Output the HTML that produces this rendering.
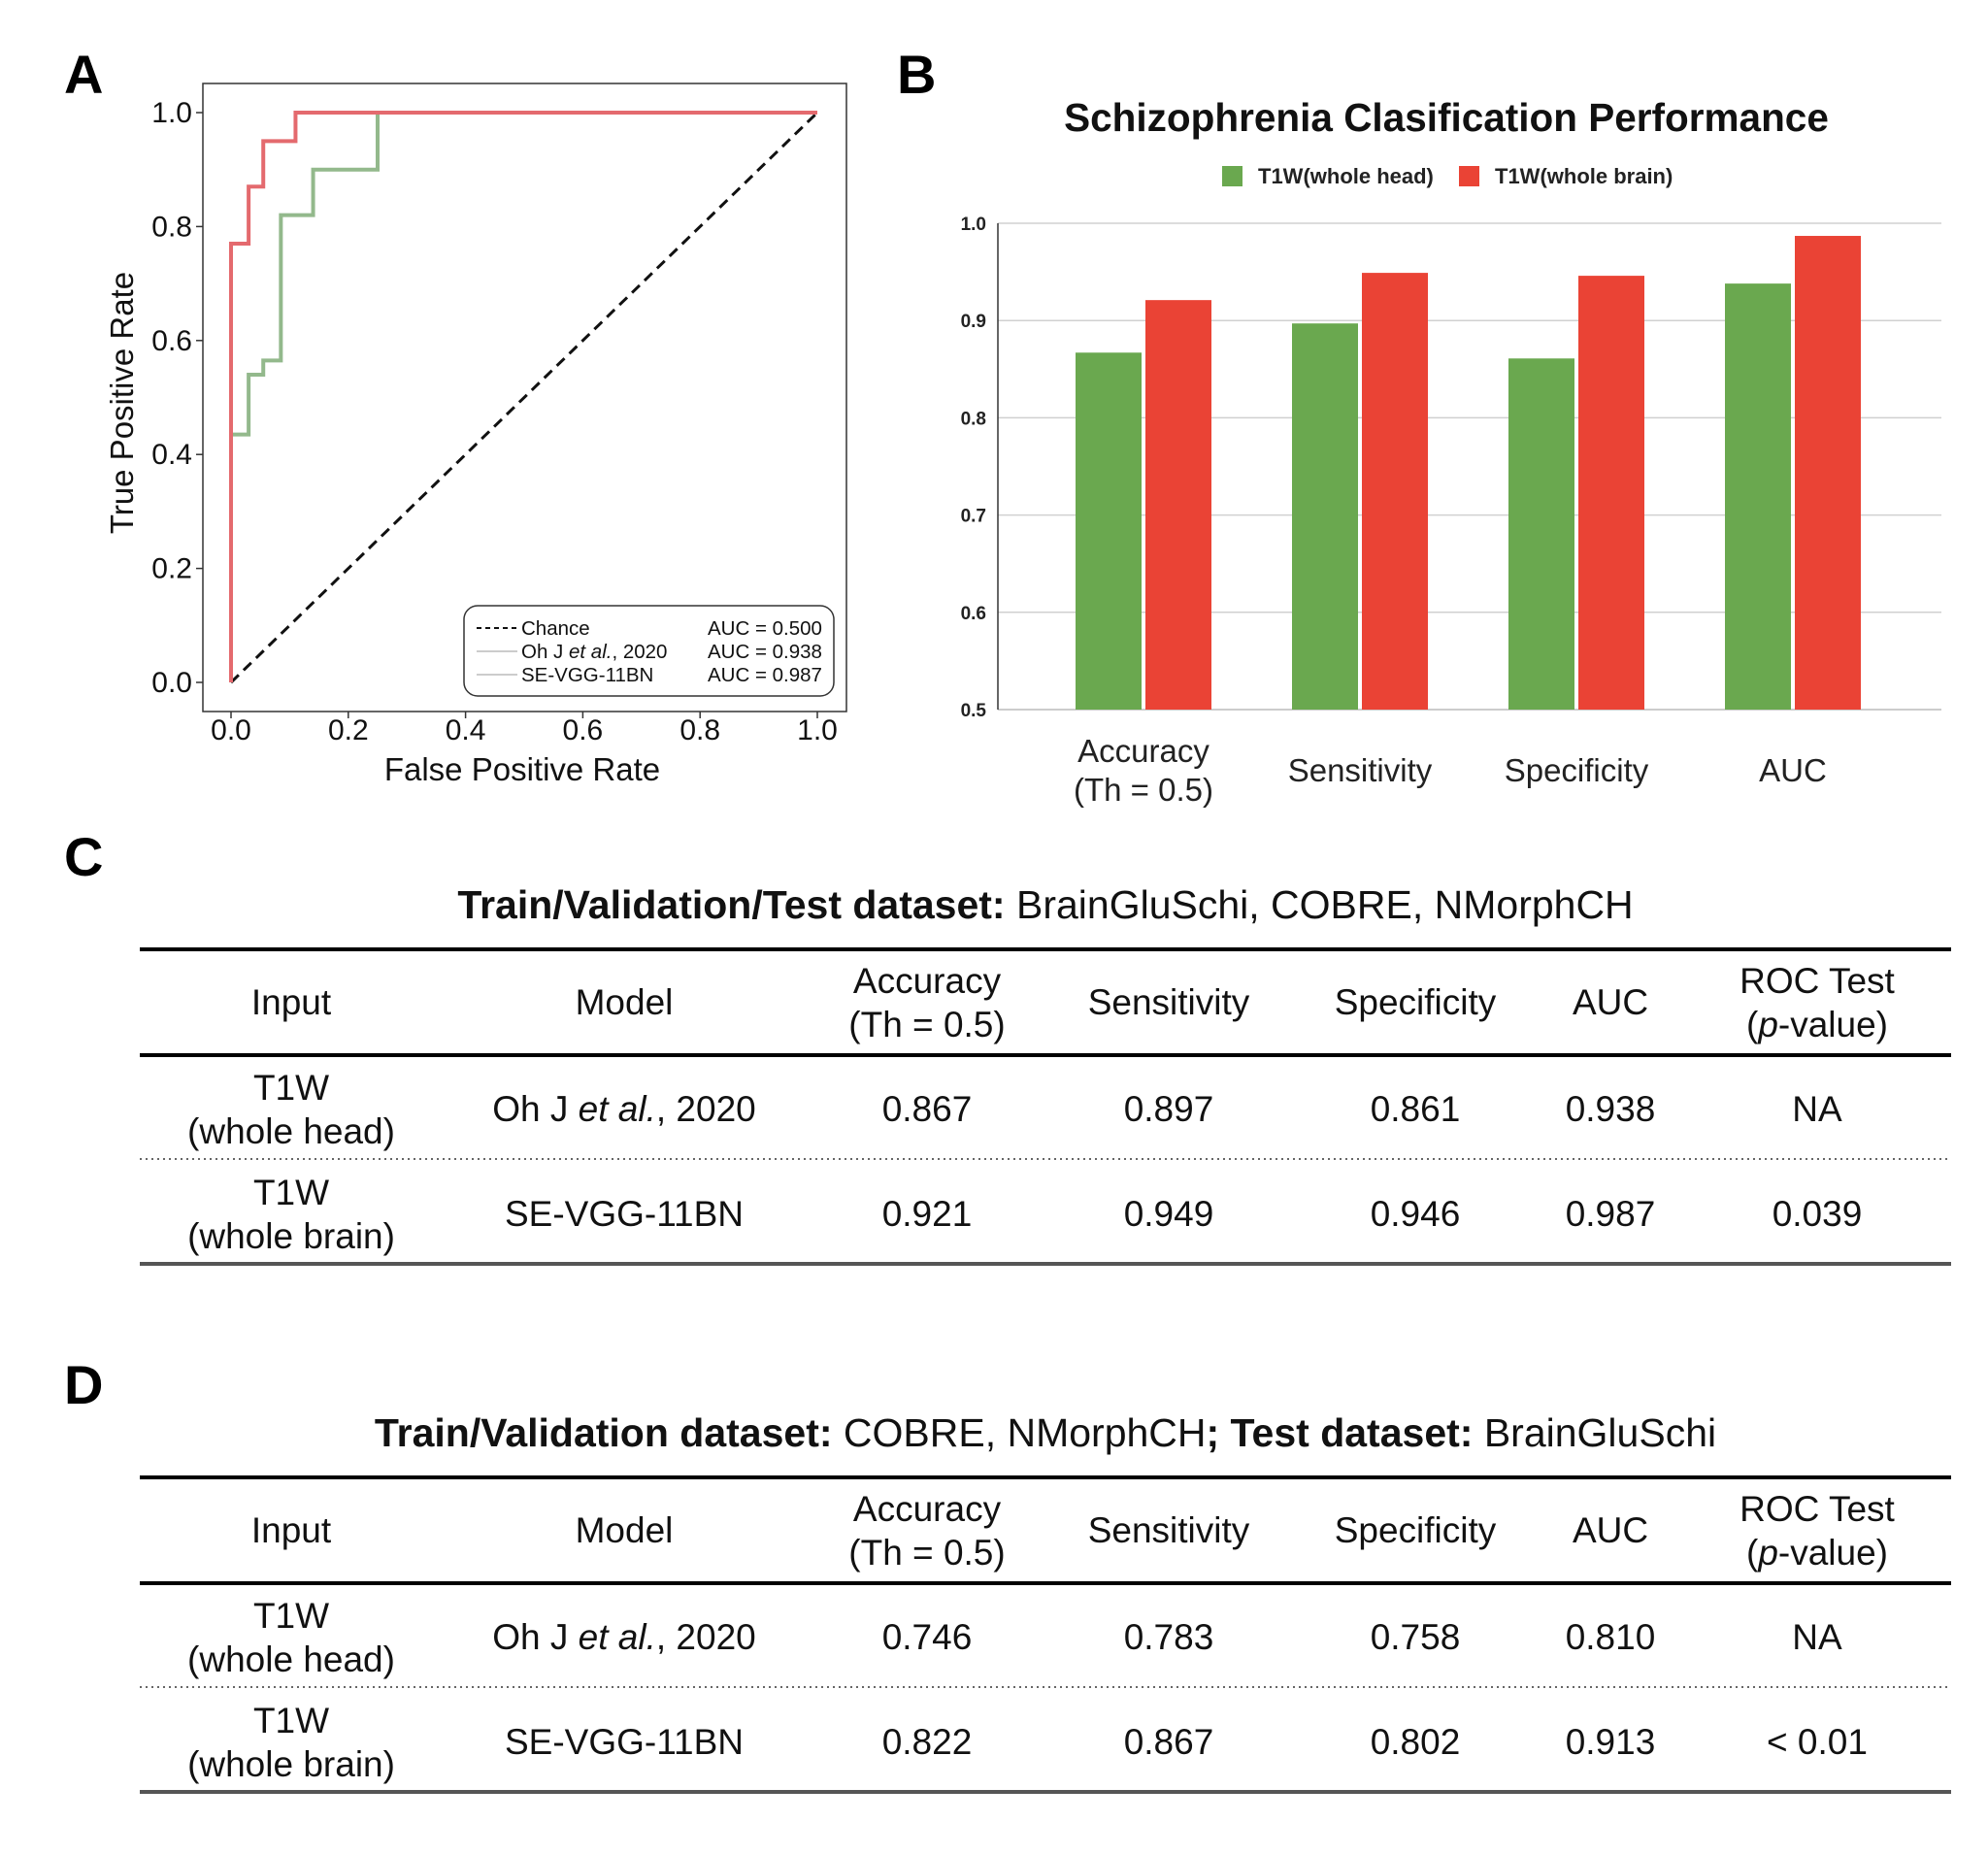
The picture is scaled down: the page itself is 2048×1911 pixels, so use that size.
<!DOCTYPE html>
<html><head><meta charset="utf-8"><style>
html,body{margin:0;padding:0;background:#fff;}
svg{display:block;font-family:"Liberation Sans",Arial,sans-serif;}
</style></head><body>
<svg id="fig" width="2048" height="1911" viewBox="0 0 2048 1911" xmlns="http://www.w3.org/2000/svg">
<rect width="2048" height="1911" fill="#fff"/>
<text x="66" y="96" font-size="56" font-weight="bold">A</text>
<text x="924" y="96" font-size="56" font-weight="bold">B</text>
<text x="66" y="902" font-size="56" font-weight="bold">C</text>
<text x="66" y="1446" font-size="56" font-weight="bold">D</text>
<g id="roc"></g>
<g id="bars"></g>
<g id="tables"></g>
</svg>
<script>
// ROC data
const rocRedX=[0,0,0.03,0.03,0.055,0.055,0.11,0.11,1];
const rocRedY=[0,0.77,0.77,0.87,0.87,0.95,0.95,1,1];
const rocGreenX=[0,0,0.03,0.03,0.055,0.055,0.085,0.085,0.14,0.14,0.25,0.25,1];
const rocGreenY=[0,0.435,0.435,0.54,0.54,0.565,0.565,0.82,0.82,0.9,0.9,1,1];
const rocTicks=[0,0.2,0.4,0.6,0.8,1.0];
const rocTickLabels=["0.0","0.2","0.4","0.6","0.8","1.0"];
const legendNames=["Chance","Oh J et al., 2020","SE-VGG-11BN"];
const legendAUC=["AUC = 0.500","AUC = 0.938","AUC = 0.987"];
// Bar data
const barCategories=[["Accuracy","(Th = 0.5)"],["Sensitivity"],["Specificity"],["AUC"]];
const barHead=[0.867,0.897,0.861,0.938];
const barBrain=[0.921,0.949,0.946,0.987];
const barTicks=[0.5,0.6,0.7,0.8,0.9,1.0];
const barTickLabels=["0.5","0.6","0.7","0.8","0.9","1.0"];
// Table data
const tableHeaders=[["Input"],["Model"],["Accuracy","(Th = 0.5)"],["Sensitivity"],["Specificity"],["AUC"],["ROC Test","(p-value)"]];
const tableCRow1=["0.867","0.897","0.861","0.938","NA"];
const tableCRow2=["0.921","0.949","0.946","0.987","0.039"];
const tableDRow1=["0.746","0.783","0.758","0.810","NA"];
const tableDRow2=["0.822","0.867","0.802","0.913","< 0.01"];

const NS="http://www.w3.org/2000/svg";
function mk(tag,attrs,parent,txt){const e=document.createElementNS(NS,tag);for(const k in attrs)e.setAttribute(k,attrs[k]);if(txt!==undefined)e.textContent=txt;parent.appendChild(e);return e;}

// ROC chart
const roc=document.getElementById('roc');
const rx=v=>238+v*(842-238), ry=v=>703-v*(703-116);
let fr=mk('rect',{x:209,y:86,width:663,height:647,fill:'none',stroke:'#333','stroke-width':1.5},roc);


rocTicks.forEach((t,i)=>{
  let a=mk('line',{x1:rx(t),x2:rx(t),y1:733,y2:740,stroke:'#333','stroke-width':1.5},roc);
  
  
  let b=mk('text',{x:rx(t),y:762,'font-size':30,'text-anchor':'middle',fill:'#111'},roc,rocTickLabels[i]);
  
  
  let c=mk('line',{x1:202,x2:209,y1:ry(t),y2:ry(t),stroke:'#333','stroke-width':1.5},roc);
  
  
  let d=mk('text',{x:198,y:ry(t)+10,'font-size':30,'text-anchor':'end',fill:'#111'},roc,rocTickLabels[i]);
  
  
});
let xt=mk('text',{x:538,y:804,'font-size':33,'text-anchor':'middle',fill:'#111'},roc,'False Positive Rate');


let yt=mk('text',{x:0,y:0,'font-size':33,'text-anchor':'middle',fill:'#111',transform:'translate(137,415) rotate(-90)'},roc,'True Positive Rate');


let ch=mk('line',{x1:rx(0),y1:ry(0),x2:rx(1),y2:ry(1),stroke:'#111','stroke-width':3,'stroke-dasharray':'11,7'},roc);


function poly(xs,ys,color,name){
  const pts=xs.map((x,i)=>rx(x)+','+ry(ys[i])).join(' ');
  const p=mk('polyline',{points:pts,fill:'none',stroke:color,'stroke-width':4,'stroke-linejoin':'miter'},roc);
  
  
}
poly(rocGreenX,rocGreenY,'#93b98c','roc-curve-oh-2020');
poly(rocRedX,rocRedY,'#e46a6e','roc-curve-se-vgg');
let lg=mk('rect',{x:478,y:624,width:381,height:93,rx:14,fill:'#fff',stroke:'#333','stroke-width':1.5},roc);


const lgStyles=[{stroke:'#111',dash:'5,4'},{stroke:'#999',dash:''},{stroke:'#999',dash:''}];
legendNames.forEach((n,i)=>{
  const y=647+i*24;
  let l=mk('line',{x1:491,x2:533,y1:y,y2:y,stroke:lgStyles[i].stroke,'stroke-width':i?1:2,'stroke-dasharray':lgStyles[i].dash},roc);
  
  
  let t=mk('text',{x:537,y:y+7,'font-size':20.5,fill:'#111'},roc);
  
  
  if(i===1){t.innerHTML='Oh J <tspan font-style="italic">et al.</tspan>, 2020';}else{t.textContent=n;}
  let a=mk('text',{x:729,y:y+7,'font-size':20.5,fill:'#111'},roc,legendAUC[i]);
  
  
});

// Bar chart
const bars=document.getElementById('bars');
const by=v=>731-(v-0.5)/0.5*(731-230);
const groupX=i=>1178+i*223;
let bt=mk('text',{x:1490,y:135,'font-size':40.5,'font-weight':'bold','text-anchor':'middle',fill:'#111'},bars,'Schizophrenia Clasification Performance');


let s1=mk('rect',{x:1259,y:171,width:21,height:21,fill:'#6aa84f'},bars);


let t1=mk('text',{x:1296,y:189,'font-size':22,'font-weight':'bold',fill:'#222'},bars,'T1W(whole head)');


let s2=mk('rect',{x:1503,y:171,width:21,height:21,fill:'#ea4335'},bars);


let t2=mk('text',{x:1540,y:189,'font-size':22,'font-weight':'bold',fill:'#222'},bars,'T1W(whole brain)');


barTicks.forEach((t,i)=>{
  let g=mk('line',{x1:1028,x2:2000,y1:by(t),y2:by(t),stroke:i?'#d0d0d0':'#bbb','stroke-width':1.5},bars);
  
  
  let l=mk('text',{x:1016,y:by(t)+7,'font-size':19,'font-weight':'bold','text-anchor':'end',fill:'#222'},bars,barTickLabels[i]);
  
  
});
let ax=mk('line',{x1:1028,x2:1028,y1:230,y2:731,stroke:'#333','stroke-width':1.5},bars);


barCategories.forEach((c,i)=>{
  const cx=groupX(i);
  let g=mk('rect',{x:cx-70,y:by(barHead[i]),width:68,height:731-by(barHead[i]),fill:'#6aa84f'},bars);
  
  
  let r=mk('rect',{x:cx+2,y:by(barBrain[i]),width:68,height:731-by(barBrain[i]),fill:'#ea4335'},bars);
  
  
  c.forEach((line,j)=>{
    const y=c.length===1?805:785+j*40;
    let t=mk('text',{x:cx,y:y,'font-size':33,'text-anchor':'middle',fill:'#222'},bars,line);
    
    
  });
});

// Tables
const tb=document.getElementById('tables');
const colX=[300,643,955,1204,1458,1659,1872];
const FS=37;
function table(oy,titleHTML,r1,r2,name){
  const g=mk('g',{},tb);
  
  
  let t=mk('text',{x:1077,y:oy+14,'font-size':41,'text-anchor':'middle',fill:'#111'},g);
  
  
  t.innerHTML=titleHTML;
  let a=mk('line',{x1:144,x2:2010,y1:oy+46,y2:oy+46,stroke:'#000','stroke-width':4},g);
  
  
  let b=mk('line',{x1:144,x2:2010,y1:oy+155,y2:oy+155,stroke:'#000','stroke-width':4},g);
  
  
  let c=mk('line',{x1:144,x2:2010,y1:oy+262,y2:oy+262,stroke:'#666','stroke-width':2,'stroke-dasharray':'2,4'},g);
  
  
  let d=mk('line',{x1:144,x2:2010,y1:oy+370,y2:oy+370,stroke:'#555','stroke-width':4},g);
  
  
  tableHeaders.forEach((h,i)=>{
    h.forEach((line,j)=>{
      const y=h.length===1?oy+113:oy+91+j*45;
      let e=mk('text',{x:colX[i],y:y,'font-size':FS,'text-anchor':'middle',fill:'#111'},g);
      
      
      if(line==='(p-value)')e.innerHTML='(<tspan font-style="italic">p</tspan>-value)';else e.textContent=line;
    });
  });
  [[r1,'(whole head)','Oh J <tspan font-style="italic">et al.</tspan>, 2020',oy+211],[r2,'(whole brain)','SE-VGG-11BN',oy+319]].forEach(rw=>{
    const [vals,inp,model,cy]=rw;
    let i1=mk('text',{x:colX[0],y:cy-10,'font-size':FS,'text-anchor':'middle',fill:'#111'},g,'T1W');
    
    
    let i2=mk('text',{x:colX[0],y:cy+35,'font-size':FS,'text-anchor':'middle',fill:'#111'},g,inp);
    
    
    let m=mk('text',{x:colX[1],y:cy+12,'font-size':FS,'text-anchor':'middle',fill:'#111'},g);
    
    
    m.innerHTML=model;
    vals.forEach((v,k)=>{
      let e=mk('text',{x:colX[k+2],y:cy+12,'font-size':FS,'text-anchor':'middle',fill:'#111'},g,v);
      
      
    });
  });
}
table(932,'<tspan font-weight="bold">Train/Validation/Test dataset:</tspan> BrainGluSchi, COBRE, NMorphCH',tableCRow1,tableCRow2,'table-c');
table(1476,'<tspan font-weight="bold">Train/Validation dataset:</tspan> COBRE, NMorphCH<tspan font-weight="bold">; Test dataset:</tspan> BrainGluSchi',tableDRow1,tableDRow2,'table-d');
</script>
</body></html>
